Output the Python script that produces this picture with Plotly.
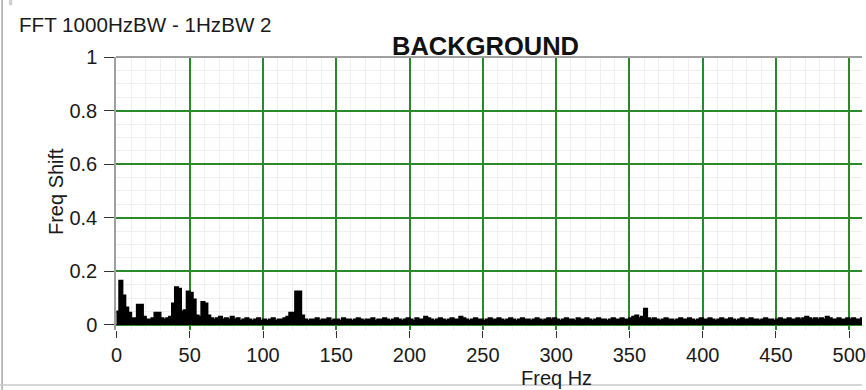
import plotly.graph_objects as go

# Frequency-shift spectrum values, one per 2 Hz bin starting at 0 Hz
shift = [
    0.05, 0.165, 0.11, 0.065, 0.045, 0.025, 0.025, 0.075, 0.075, 0.03,
    0.02, 0.02, 0.025, 0.045, 0.045, 0.025, 0.02, 0.025, 0.03, 0.08,
    0.14, 0.135, 0.05, 0.055, 0.125, 0.12, 0.095, 0.035, 0.03, 0.085,
    0.08, 0.035, 0.025, 0.02, 0.025, 0.03, 0.02, 0.025, 0.02, 0.03,
    0.02, 0.025, 0.015, 0.02, 0.025, 0.02, 0.015, 0.02, 0.025, 0.015,
    0.02, 0.015, 0.02, 0.025, 0.015, 0.02, 0.02, 0.025, 0.03, 0.045,
    0.045, 0.125, 0.125, 0.035, 0.02, 0.015, 0.02, 0.02, 0.025, 0.015,
    0.02, 0.02, 0.025, 0.015, 0.02, 0.02, 0.015, 0.025, 0.02, 0.02,
    0.015, 0.02, 0.025, 0.02, 0.015, 0.02, 0.02, 0.025, 0.015, 0.02,
    0.02, 0.025, 0.02, 0.015, 0.02, 0.025, 0.02, 0.015, 0.02, 0.025,
    0.02, 0.015, 0.025, 0.02, 0.02, 0.03, 0.025, 0.02, 0.015, 0.02,
    0.025, 0.02, 0.015, 0.02, 0.025, 0.02, 0.02, 0.03, 0.025, 0.02,
    0.015, 0.02, 0.025, 0.02, 0.02, 0.015, 0.02, 0.025, 0.02, 0.02,
    0.025, 0.02, 0.015, 0.02, 0.025, 0.02, 0.015, 0.02, 0.025, 0.02,
    0.02, 0.015, 0.02, 0.025, 0.02, 0.015, 0.02, 0.025, 0.02, 0.025,
    0.02, 0.015, 0.02, 0.025, 0.02, 0.02, 0.015, 0.025, 0.02, 0.02,
    0.025, 0.02, 0.015, 0.02, 0.025, 0.02, 0.02, 0.015, 0.02, 0.025,
    0.02, 0.02, 0.025, 0.02, 0.02, 0.025, 0.03, 0.035, 0.025, 0.03,
    0.06, 0.025, 0.02, 0.025, 0.02, 0.015, 0.02, 0.025, 0.02, 0.02,
    0.015, 0.02, 0.025, 0.02, 0.02, 0.025, 0.02, 0.015, 0.02, 0.025,
    0.02, 0.02, 0.025, 0.02, 0.015, 0.02, 0.025, 0.02, 0.02, 0.025,
    0.02, 0.015, 0.02, 0.025, 0.02, 0.02, 0.025, 0.02, 0.02, 0.015,
    0.02, 0.025, 0.02, 0.02, 0.015, 0.02, 0.025, 0.02, 0.02, 0.025,
    0.02, 0.02, 0.025, 0.02, 0.025, 0.03, 0.025, 0.02, 0.025, 0.02,
    0.025, 0.02, 0.03, 0.025, 0.02, 0.02, 0.025, 0.02, 0.02, 0.025,
    0.02, 0.025, 0.02, 0.02, 0.025, 0.02,
]
bin_hz = 2
freq = [i * bin_hz for i in range(len(shift))]

x_ticks = [0, 50, 100, 150, 200, 250, 300, 350, 400, 450, 500]
y_ticks = [0, 0.2, 0.4, 0.6, 0.8, 1]
y_tick_text = ["0", "0.2", "0.4", "0.6", "0.8", "1"]

window_title = "FFT 1000HzBW - 1HzBW 2"
chart_title = "BACKGROUND"
x_title = "Freq Hz"
y_title = "Freq Shift"

FONT = "Liberation Sans, Arial, sans-serif"
GREEN = "#2a8a2a"
MINOR = "#efefef"
TXT = "#1a1a1a"

fig = go.Figure()
fig.add_trace(go.Scatter(
    x=freq, y=shift, mode="lines", line_shape="hv",
    line=dict(color="black", width=2.2),
    fill="tozeroy", fillcolor="black",
    hoverinfo="x+y", showlegend=False,
))

fig.update_layout(
    width=866, height=390,
    margin=dict(l=116, r=0, t=57, b=60),
    paper_bgcolor="white", plot_bgcolor="white",
    font=dict(family=FONT, size=20, color=TXT),
    xaxis=dict(
        range=[-0.3, 508.7], tickvals=x_ticks,
        ticks="outside", ticklen=7, tickwidth=1, tickcolor="#333",
        tickfont=dict(family=FONT, size=20, color=TXT),
        ticklabeloverflow="allow",
        showline=False, zeroline=False,
        showgrid=True, gridcolor=GREEN, gridwidth=1.5,
        minor=dict(dtick=10, tick0=0, showgrid=True, gridcolor=MINOR, gridwidth=1, ticks=""),
    ),
    yaxis=dict(
        range=[-0.0187, 1], tickvals=y_ticks, ticktext=y_tick_text,
        ticks="outside", ticklen=10, tickwidth=1, tickcolor="#333",
        ticklabelstandoff=3,
        tickfont=dict(family=FONT, size=20, color=TXT),
        showline=True, linecolor="#a0a0a0", linewidth=1.5,
        zeroline=False,
        showgrid=True, gridcolor=GREEN, gridwidth=1.5,
        minor=dict(dtick=0.05, tick0=0, showgrid=True, gridcolor=MINOR, gridwidth=1, ticks=""),
    ),
    shapes=[
        # top border of plot
        dict(type="line", xref="paper", yref="paper", x0=0, x1=1, y0=1, y1=1,
             line=dict(color="#a0a0a0", width=2)),
        # window frame left edge
        dict(type="line", xref="paper", yref="paper", x0=-0.1527, x1=-0.1527, y0=-0.22, y1=1.22,
             line=dict(color="#a8a8a8", width=1.5)),
        # window frame bottom edge
        dict(type="line", xref="paper", yref="paper", x0=-0.16, x1=1.0, y0=-0.2015, y1=-0.2015,
             line=dict(color="#c8c8c8", width=1.5)),
        # small tab at top-left
        dict(type="rect", xref="paper", yref="paper", x0=-0.1435, x1=-0.139, y0=1.19, y1=1.22,
             fillcolor="#d0d0d0", line=dict(width=0)),
    ],
    annotations=[
        dict(text=window_title, xref="paper", yref="paper", x=-0.1324, y=1.12,
             xanchor="left", yanchor="middle", showarrow=False,
             font=dict(family=FONT, size=20.6, color=TXT)),
        dict(text="<b>" + chart_title + "</b>", xref="paper", yref="paper", x=0.4953, y=1.042,
             xanchor="center", yanchor="middle", showarrow=False,
             font=dict(family=FONT, size=25.5, color="#111")),
        dict(text=y_title, xref="paper", yref="paper", x=-0.0813, y=0.5066,
             xanchor="center", yanchor="middle", textangle=-90, showarrow=False,
             font=dict(family=FONT, size=20, color=TXT)),
        dict(text=x_title, xref="paper", yref="paper", x=0.591, y=-0.176,
             xanchor="center", yanchor="middle", showarrow=False,
             font=dict(family=FONT, size=20, color=TXT)),
    ],
)

fig.write_html("out.html")
